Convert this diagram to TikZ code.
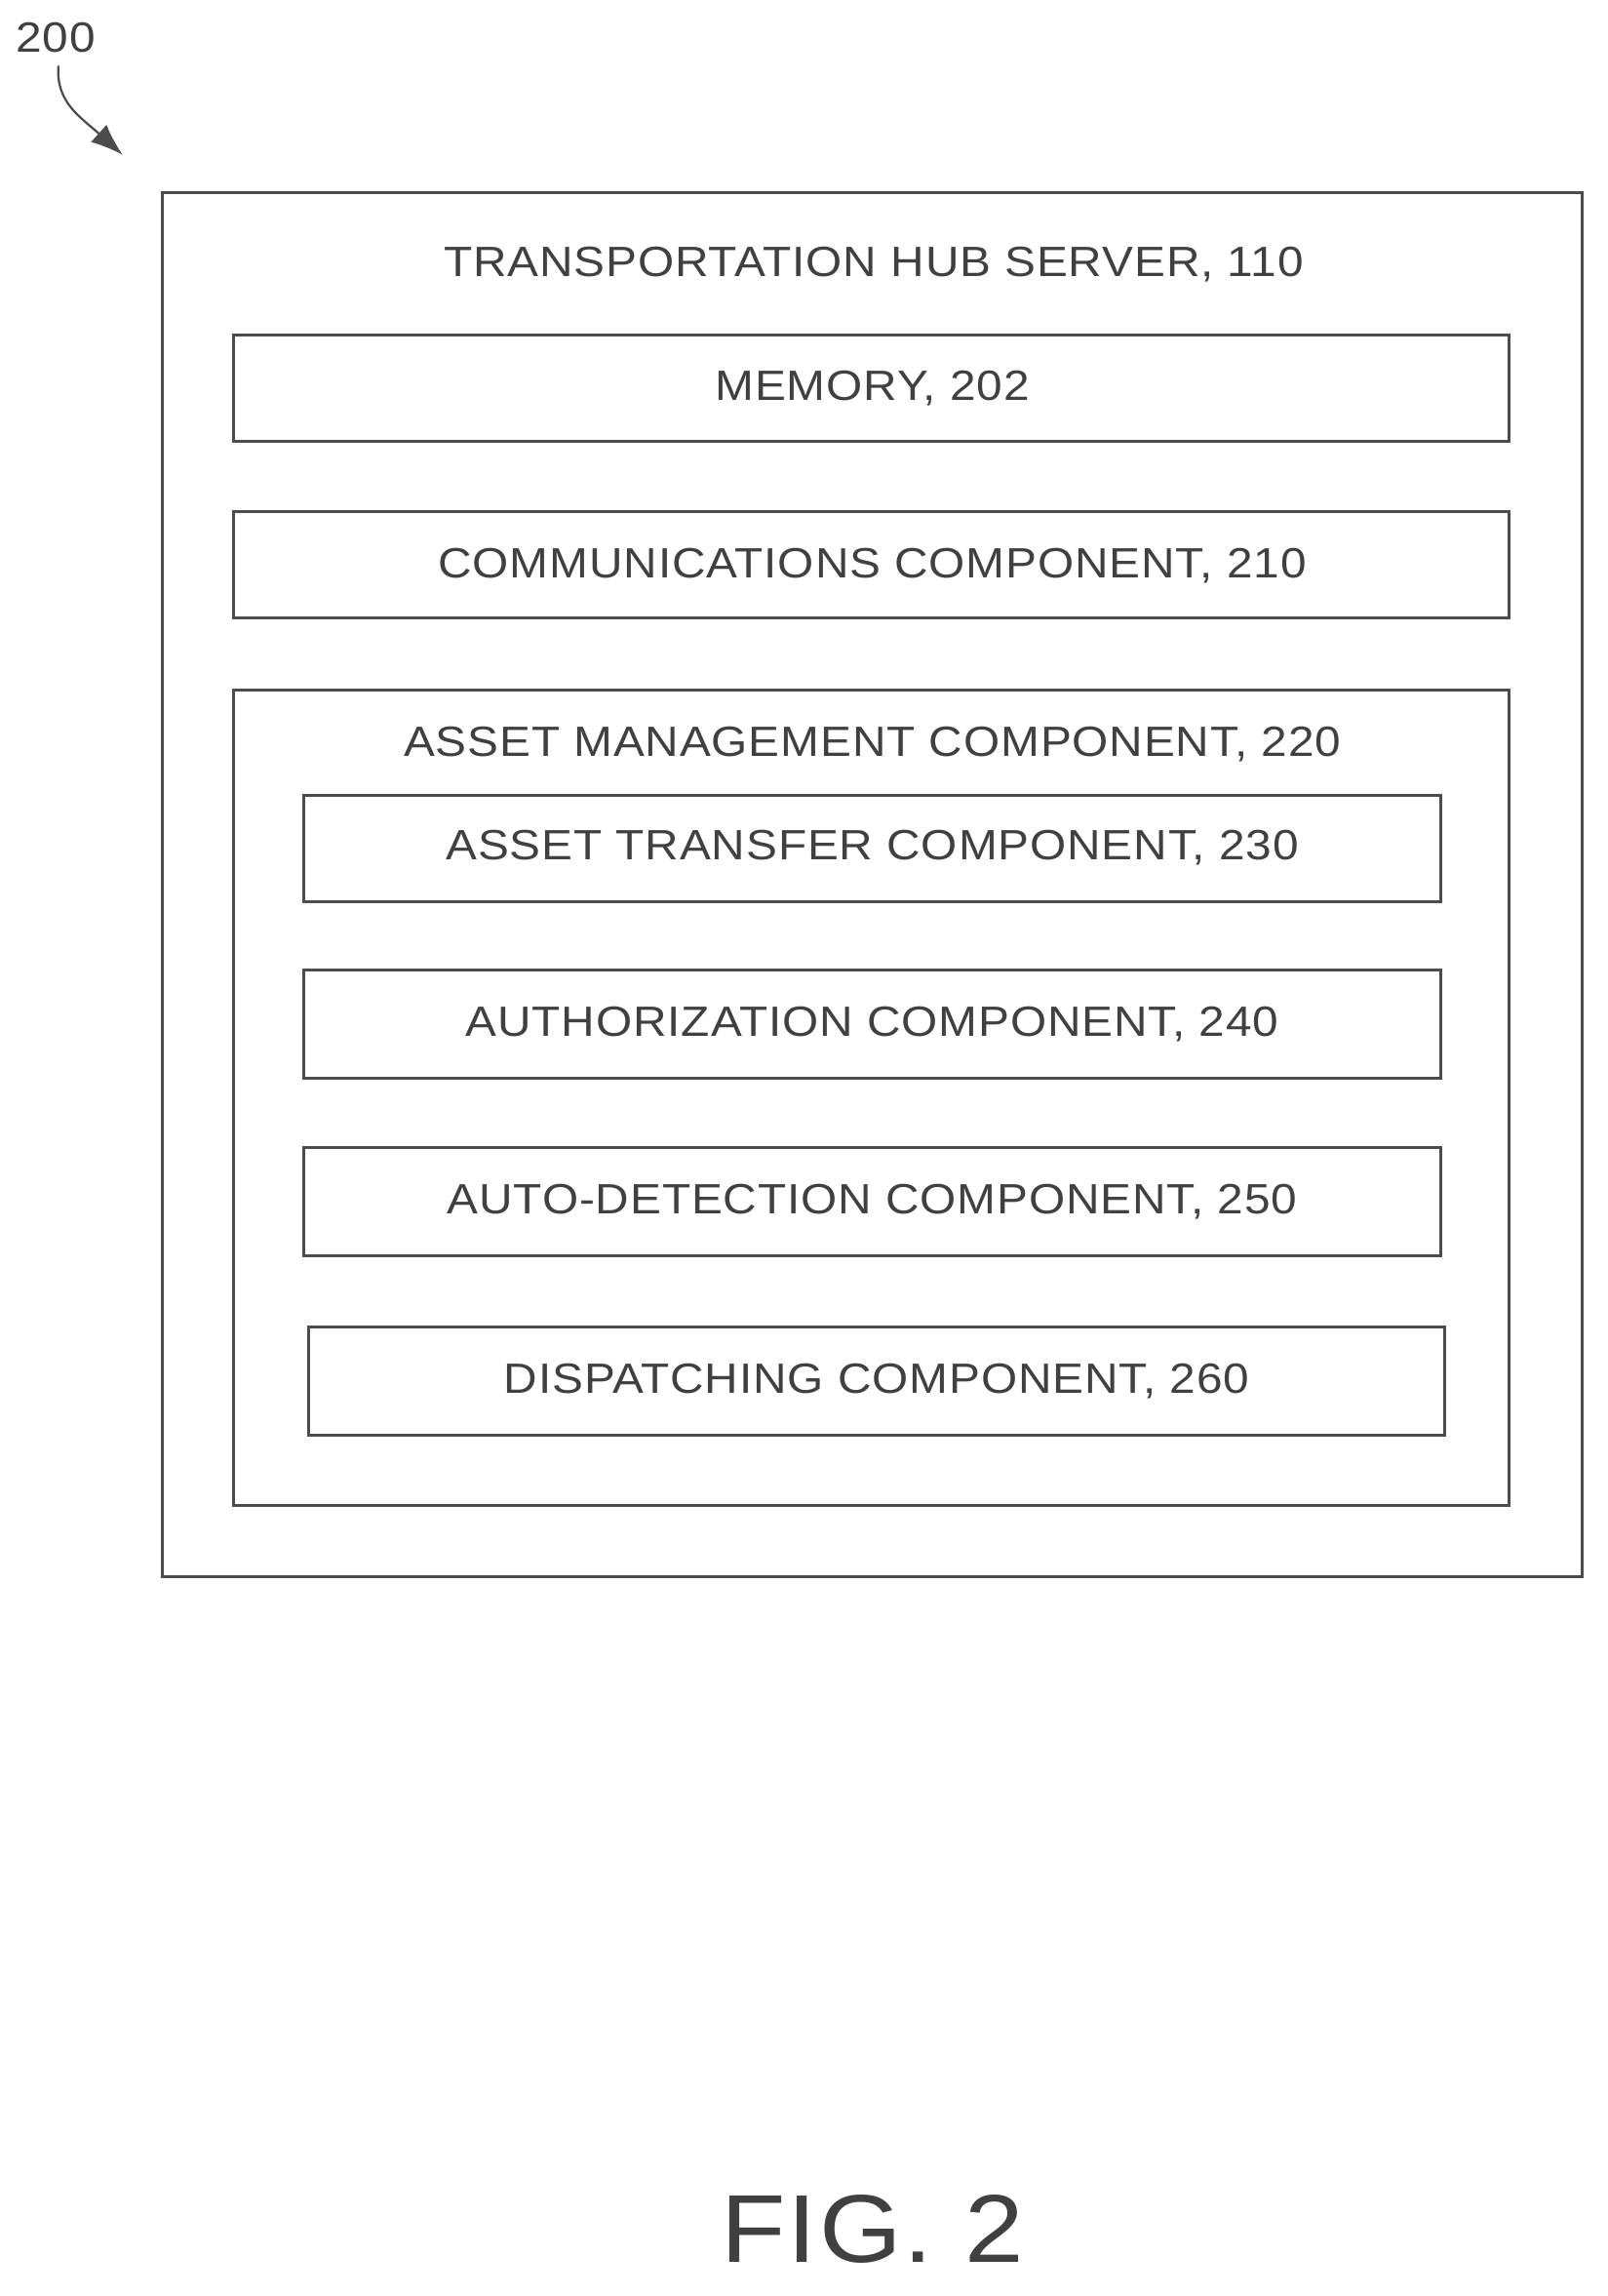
\documentclass[tikz,border=0pt]{standalone}
\usepackage{fontspec}
\setmainfont{Liberation Sans}[FakeStretch=1.1,LetterSpace=2]
\usetikzlibrary{arrows.meta}
\begin{document}
\begin{tikzpicture}[x=1pt,y=-1pt,
  box/.style={draw=black!70,line width=2pt},
  lbl/.style={font=\fontsize{29}{32}\selectfont,text=black!75,inner sep=0}]
\useasboundingbox (0,0) rectangle (1100,1571);
\node[lbl] (n200) at (38,26) {200};
\coordinate (a1) at (84,106);
\draw[black!70,line width=1.5pt,-{Latex[length=22pt,width=16pt]}] (40,45) .. controls (38,70) and (55,80) .. (a1);
\draw[box] (111,132) rectangle (1083,1079);
\node[lbl] (t110) at (598,181) {TRANSPORTATION HUB SERVER, 110};
\draw[box] (160,229) rectangle (1033,302); \node[lbl] (m202) at (597,266) {MEMORY, 202};
\draw[box] (160,350) rectangle (1033,423); \node[lbl] (c210) at (597,387) {COMMUNICATIONS COMPONENT, 210};
\draw[box] (160,472) rectangle (1033,1030); \node[lbl] (a220) at (597,509) {ASSET MANAGEMENT COMPONENT, 220};
\draw[box] (208,544) rectangle (986,617); \node[lbl] (a230) at (597,580) {ASSET TRANSFER COMPONENT, 230};
\draw[box] (208,664) rectangle (986,738); \node[lbl] (a240) at (597,701) {AUTHORIZATION COMPONENT, 240};
\draw[box] (208,785) rectangle (986,859); \node[lbl] (a250) at (597,822) {AUTO-DETECTION COMPONENT, 250};
\draw[box] (211,908) rectangle (989,982); \node[lbl] (a260) at (600,945) {DISPATCHING COMPONENT, 260};
\node[lbl,font=\fontsize{66}{70}\selectfont] (fig) at (597,1525) {FIG. 2};
\end{tikzpicture}
\end{document}
